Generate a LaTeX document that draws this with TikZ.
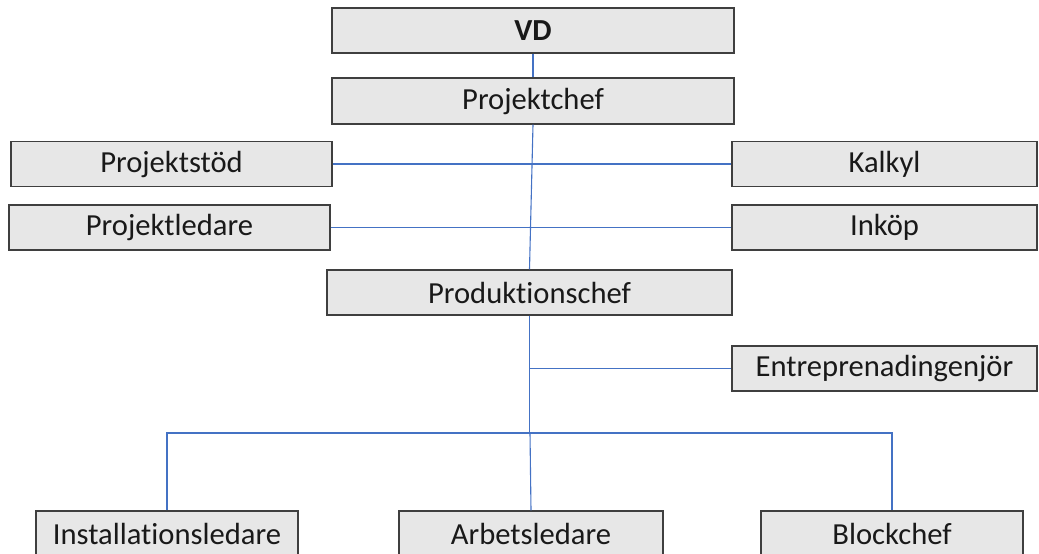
\documentclass[tikz,border=0pt]{standalone}
\usepackage{fontspec}
\setmainfont{Carlito}[Ligatures={NoCommon,NoRare,NoDiscretionary}]
\usepackage{tikz}
\usetikzlibrary{shapes,arrows,positioning}
\definecolor{boxgray}{HTML}{E7E7E7}
\definecolor{boxline}{HTML}{3F3F3F}
\definecolor{linkblue}{HTML}{4472C4}
\tikzset{
	orgbox/.style={draw=boxline,fill=boxgray,line width=0.7pt,inner sep=0pt,text=black!90,
		minimum height=22.5pt,font=\fontsize{15.3}{18}\selectfont},
	link/.style={draw=linkblue,line width=0.55pt}
}

\begin{document}
\begin{tikzpicture}[x=0.5pt,y=-0.5pt]
	\useasboundingbox (0,0) rectangle (1039,553);
	\node[orgbox,minimum width=201pt] (vd) at (533,30.5) {\textbf{VD}};
	\node[orgbox,minimum width=201pt,minimum height=23pt] (pc) at (533,101) {Projektchef};
	\node[orgbox,minimum width=160.5pt] (stod) at (171.5,164) {Projektstöd};
	\node[orgbox,minimum width=160.5pt] (ledare) at (169.5,227.5) {Projektledare};
	\node[orgbox,minimum width=152.5pt] (kalkyl) at (884.5,164) {Kalkyl};
	\node[orgbox,minimum width=152.5pt] (inkop) at (884.5,227.5) {Inköp};
	\node[orgbox,minimum width=202.5pt] (prod) at (529.5,292.5) {Produktionschef};
	\node[orgbox,minimum width=152.5pt] (entr) at (884.5,368.5) {Entreprenadingenjör};
	\node[orgbox,minimum width=131pt,minimum height=23pt] (inst) at (167,534) {Installationsledare};
	\node[orgbox,minimum width=132pt,minimum height=23pt] (arb) at (531,534) {Arbetsledare};
	\node[orgbox,minimum width=131pt,minimum height=23pt] (block) at (892,534) {Blockchef};
	\coordinate (bar) at (530,433);

	\draw[link] (vd) -- (pc);
	\draw[link] (pc.south) -- (prod.north);
	\draw[link] (stod.east) -- (kalkyl.west);
	\draw[link] (ledare.east) -- (inkop.west);
	\draw[link] (prod.south) -- (prod.south |- bar);
	\draw[link] (prod.south |- entr.west) -- (entr.west);
	\draw[link] (inst.north) |- (bar) -| (block.north);
	\draw[link] (bar) -- (arb.north);
\end{tikzpicture}
\end{document}
